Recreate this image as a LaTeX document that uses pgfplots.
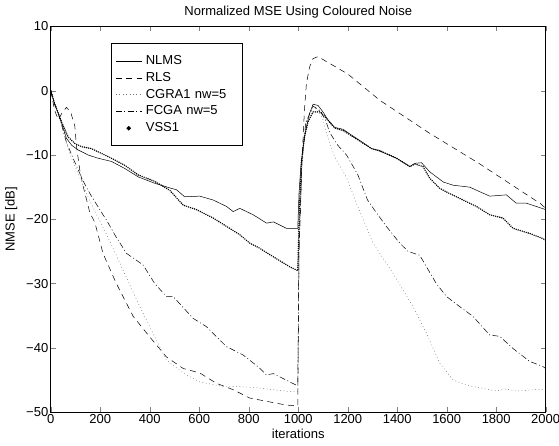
\documentclass[border=0pt]{standalone}
\usepackage{fontspec}
\setmainfont{Liberation Sans}
\usepackage{pgfplots}
\pgfplotsset{compat=1.18}
\begin{document}
\begin{tikzpicture}
\begin{axis}[
  scale only axis, width=494.9pt, height=385.8pt,
  xmin=0, xmax=2000, ymin=-50, ymax=10,
  xtick={0,200,...,2000}, ytick={-50,-40,...,10},
  yticklabels={−50,−40,−30,−20,−10,0,10},
  tick pos=both, tick align=inside, major tick length=5pt,
  scaled x ticks=false,
  /pgf/number format/assume math mode=true,
  /pgf/number format/1000 sep={},
  tick label style={font=\fontsize{13}{15}\selectfont},
  xticklabel style={yshift=1pt},
  yticklabel style={xshift=1pt},
  label style={font=\fontsize{13}{15}\selectfont},
  title style={font=\fontsize{13}{15}\selectfont, yshift=-1pt},
  title={Normalized MSE Using Coloured Noise},
  xlabel={iterations}, ylabel={NMSE [dB]},
  xlabel style={yshift=2pt}, ylabel style={yshift=2pt},
  axis line style={line width=0.6pt},
  every axis plot/.append style={line width=0.5pt, black},
  legend cell align=left,
  legend image code/.code={\draw[#1] (0cm,0cm) -- (0.9cm,0cm);},
  legend style={at={(0.1225,0.956)}, anchor=north west, draw=black, line width=0.6pt,
    inner xsep=4pt, inner ysep=10.4pt, row sep=2.8pt,
    font=\fontsize{13}{15}\selectfont,
    nodes={inner sep=1pt, text height=9.4pt, text depth=2.6pt}},
  /tikz/every odd column/.append style={column sep=3pt},
  /tikz/every even column/.append style={text width=91pt},
]
% NLMS
\addplot[solid] coordinates {
(0,0) (15,-2) (30,-3.5) (45,-5.2) (63,-7.4) (85,-8.5) (110,-9.2) (151,-10.0) (191,-10.5)
(245,-11.0) (299,-12.1) (353,-13.4) (420,-14.4) (488,-15.2) (508,-15.4) (541,-16.5)
(602,-16.4) (656,-17.0) (710,-18.0) (737,-18.8) (764,-18.3) (818,-19.3) (872,-20.6)
(900,-20.4) (952,-21.4) (998,-21.4) (1003,-16) (1010,-12) (1020,-8.5) (1033,-5.6)
(1046,-3.5) (1060,-2.1) (1080,-2.3) (1100,-3.3) (1121,-4.6) (1147,-5.7) (1181,-6.0)
(1215,-6.9) (1255,-7.9) (1296,-9.0) (1329,-9.4) (1397,-10.5) (1451,-11.8) (1471,-11.3)
(1498,-11.2) (1531,-12.6) (1586,-14.2) (1626,-14.7) (1693,-15.0) (1733,-15.7)
(1774,-16.4) (1841,-16.2) (1881,-17.5) (1922,-17.5) (1962,-18.0) (2000,-18.5)
};
\addlegendentry{NLMS}
% RLS
\addplot[dash pattern=on 6pt off 4.5pt] coordinates {
(0,0) (15,-3) (30,-4.5) (45,-3.5) (63,-2.6) (80,-3.3) (97,-5.5) (104,-8.7) (117,-12.3)
(131,-14.9) (158,-19.0) (178,-20.5) (211,-25.3) (265,-30.0) (333,-35.1) (400,-38.3)
(467,-41.4) (535,-43.2) (602,-43.9) (669,-45.5) (737,-46.5) (804,-47.8) (871,-48.3)
(952,-48.9) (998,-49.0) (1003,-25) (1015,-11) (1025,-3) (1033,1.1) (1046,3.7)
(1060,5.0) (1080,5.3) (1200,2.6) (1330,-1.5) (1530,-6.6) (1730,-11.3) (1980,-17.6)
(2000,-18.3)
};
\addlegendentry{RLS}
% CGRA1
\addplot[black!55, dash pattern=on 0.8pt off 2.6pt] coordinates {
(0,0) (15,-2) (30,-3.5) (45,-5.5) (63,-8) (84,-10.5) (117,-13.5) (150,-16.5) (175,-18.5)
(225,-22.3) (292,-27.9) (360,-33.6) (427,-38.8) (467,-41.9) (535,-43.9) (602,-45.3)
(696,-46.0) (760,-46.0) (831,-46.2) (900,-46.5) (966,-46.8) (998,-46.8) (1003,-25)
(1015,-12) (1030,-5) (1060,-2.6) (1080,-3.0) (1100,-4.5) (1114,-6.6) (1147,-10.3)
(1195,-13.5) (1235,-17.5) (1302,-23.7) (1383,-28.4) (1464,-33.6) (1518,-37.7)
(1572,-42.4) (1626,-45.0) (1680,-45.8) (1801,-46.7) (1840,-46.4) (1880,-46.7) (2000,-46.4)
};
\addlegendentry{CGRA1 nw=5}
% FCGA
\addplot[dash pattern=on 6pt off 2.5pt on 1pt off 2.5pt] coordinates {
(0,0) (15,-2) (30,-3.5) (45,-5.5) (63,-8) (90,-10.5) (130,-14) (158,-16) (211,-19.3)
(225,-20.1) (260,-22.5) (306,-25.3) (373,-27.1) (420,-30) (467,-32.0) (494,-32.0)
(575,-35.4) (629,-36.7) (710,-39.8) (777,-41.1) (840,-43) (871,-44.2) (900,-44.0)
(966,-45.3) (998,-45.9) (1003,-25) (1015,-11) (1030,-5) (1060,-2.4) (1085,-3.0)
(1110,-4.5) (1127,-6.5) (1160,-8.5) (1195,-10.0) (1240,-13) (1280,-17) (1316,-19)
(1356,-21.1) (1410,-23.7) (1444,-25.0) (1491,-25.6) (1558,-30.0) (1599,-32.0)
(1653,-33.6) (1706,-35.1) (1774,-38.0) (1814,-38.2) (1868,-40.1) (1935,-42.1)
(1989,-42.9) (2000,-43.2)
};
\addlegendentry{FCGA nw=5}
% VSS1
\addplot[line width=1.6pt, line cap=round, dash pattern=on 0pt off 2.1pt,
  legend image code/.code={\fill[solid] (0.45cm,0cm) circle (1.2pt);}] coordinates {
(0,0) (15,-2) (30,-3.5) (45,-5.0) (70,-7.2) (97,-8.2) (124,-8.7) (164,-9.0) (191,-9.5)
(245,-10.5) (299,-11.6) (353,-13.1) (420,-14.1) (481,-15.5) (535,-17.8) (589,-18.5)
(656,-19.8) (710,-21.1) (764,-22.4) (804,-23.7) (844,-24.5) (898,-25.8) (966,-27.4)
(998,-28.0) (1005,-18) (1013,-11) (1026,-7) (1040,-4.8) (1060,-3.3) (1090,-3.3)
(1114,-4.3) (1147,-5.8) (1181,-6.2) (1215,-7.0) (1255,-8.0) (1296,-9.0) (1329,-9.3)
(1397,-10.5) (1451,-11.8) (1471,-11.4) (1504,-11.8) (1531,-13.6) (1572,-15.2)
(1612,-16.0) (1666,-17.0) (1720,-18.0) (1774,-19.3) (1827,-19.8) (1868,-21.4)
(1935,-22.2) (1989,-23.0) (2000,-23.3)
};
\addlegendentry{VSS1}
\end{axis}
\pgfresetboundingbox
\path[use as bounding box] ([xshift=-50.8pt,yshift=-33.8pt]current axis.south west) rectangle ([xshift=13.3pt,yshift=26.4pt]current axis.north east);
\end{tikzpicture}
\end{document}
